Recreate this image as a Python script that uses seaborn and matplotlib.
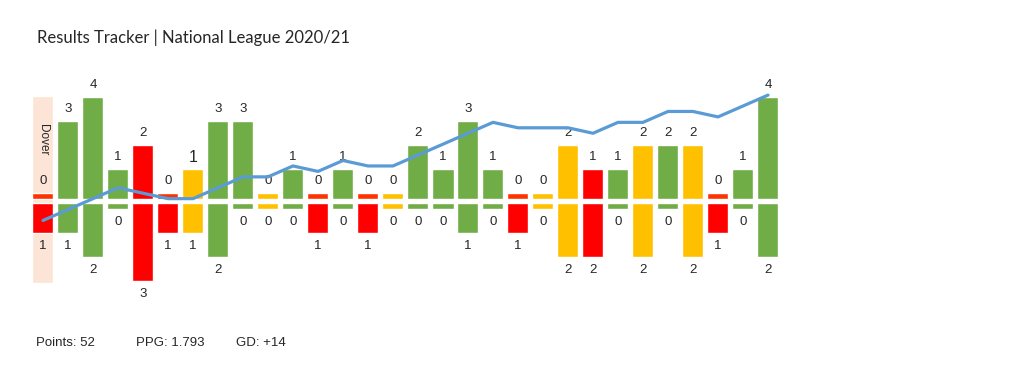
import numpy as np
import matplotlib
matplotlib.use("Agg")
import matplotlib.pyplot as plt
import seaborn as sns

# ======== Data ========

title = "Results Tracker | National League 2020/21"

goals_for = [0, 3, 4, 1, 2, 0, 1, 3, 3, 0, 1, 0, 1, 0, 0, 2, 1, 3, 1, 0,
             0, 2, 1, 1, 2, 2, 2, 0, 1, 4]
goals_against = [1, 1, 2, 0, 3, 1, 1, 2, 0, 0, 0, 1, 0, 1, 0, 0, 0, 1, 0, 1,
                 0, 2, 2, 0, 2, 0, 2, 1, 0, 2]
results = ["L", "W", "W", "W", "L", "L", "D", "W", "W", "D", "W", "L", "W", "L", "D",
           "W", "W", "W", "W", "L", "D", "D", "L", "W", "D", "W", "D", "L", "W", "W"]

# cumulative form line (points minus one per game)
form = [-1, 1, 3, 5, 4, 3, 3, 5, 7, 7, 9, 8, 10, 9, 9, 11, 13, 15, 17, 16,
        16, 16, 15, 17, 17, 19, 19, 18, 20, 22]

expunged_idx = 0
expunged_name = "Dover"

summary = ["Points: 52", "PPG: 1.793", "GD: +14"]

# ======== Styles ========

result_colors = {"W": "#70AD47", "D": "#FFC000", "L": "#FF0000"}
zero_loss_color = "#FF3300"
line_color = "#5B9BD5"
bg_color = "#FCE4D6"

sns.set_style("white")
plt.rcParams["font.family"] = ["Liberation Sans", "DejaVu Sans"]

fig = plt.figure(figsize=(10.15, 3.79), dpi=100)
ax = fig.add_axes([0, 0, 1, 1])
ax2 = ax.twinx()
ax2.set_position([0, 0, 1, 1])

x = np.arange(len(goals_for))
width = 0.84
gap = 0.083
stub = 0.25

# highlight expunged match
ax.bar(expunged_idx, 7.775, bottom=-3.4, width=width, color=bg_color, zorder=0)
ax.text(expunged_idx, 2.55, expunged_name, rotation=270, ha="center", va="center",
        fontsize=8.5, zorder=3)

up_colors = []
down_colors = []
for gf, res in zip(goals_for, results):
    if gf == 0 and res == "L":
        up_colors.append(zero_loss_color)
    else:
        up_colors.append(result_colors[res])
for res in results:
    down_colors.append(result_colors[res])

gf_arr = np.array(goals_for)
ga_arr = np.array(goals_against)

ax.bar(x, gf_arr + stub, bottom=gap, width=width, color=up_colors, zorder=1)
ax.bar(x, -(ga_arr + stub), bottom=-gap, width=width, color=down_colors, zorder=1)

for i in range(len(x)):
    fs = 11.5 if i == 6 else 9.5
    ax.text(x[i], gap + goals_for[i] + stub + 0.5, str(goals_for[i]),
            ha="center", va="center", fontsize=fs, zorder=3)
    ax.text(x[i], -gap - goals_against[i] - stub - 0.55, str(goals_against[i]),
            ha="center", va="center", fontsize=9.5, zorder=3)

ax.set_xlim(-1.72, 38.88)
ax.set_ylim(-7.417, 8.375)
ax.axis("off")

sns.lineplot(x=x, y=form, ax=ax2, color=line_color, linewidth=2.3, zorder=2)
ax2.set_xlim(-1.72, 38.88)
ax2.set_ylim(-30.09, 39.45)
ax2.axis("off")

fig.text(37 / 1015, 1 - 43 / 379, title, fontsize=12, family=["Lato", "DejaVu Sans"],
         ha="left", va="baseline")

for k, s in enumerate(summary):
    fig.text((36 + 100 * k) / 1015, 1 - 346 / 379, s, fontsize=9.5, ha="left", va="baseline")

fig.savefig("out.png", dpi=100)
